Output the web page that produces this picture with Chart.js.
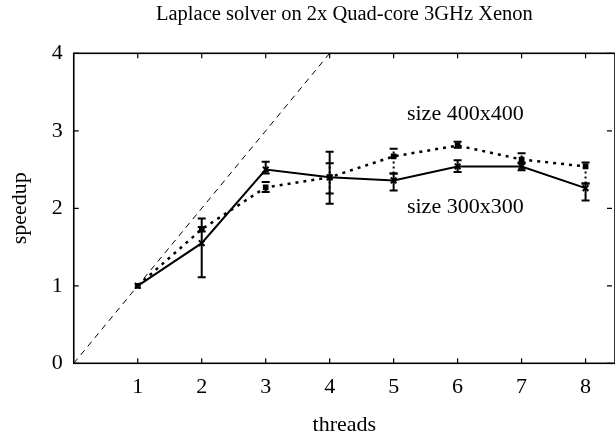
<!DOCTYPE html>
<html><head><meta charset="utf-8">
<script src="https://cdn.jsdelivr.net/npm/chart.js@4"></script>
<style>html,body{margin:0;padding:0;background:#fff}#wrap{width:615px;height:440px}</style>
</head><body><div id="wrap"><canvas id="c" width="615" height="440"></canvas></div>
<script>
// ---- data ----
const threads = [1, 2, 3, 4, 5, 6, 7, 8];
const speedup300 = [1.00, 1.55, 2.50, 2.40, 2.36, 2.54, 2.54, 2.26];
const err300Low  = [1.00, 1.11, 2.45, 2.06, 2.23, 2.47, 2.49, 2.10];
const err300High = [1.00, 1.87, 2.60, 2.73, 2.45, 2.62, 2.58, 2.32];
const speedup400 = [1.00, 1.73, 2.27, 2.40, 2.67, 2.81, 2.63, 2.54];
const err400Low  = [1.00, 1.70, 2.21, 2.19, 2.45, 2.78, 2.59, 2.32];
const err400High = [1.00, 1.76, 2.34, 2.58, 2.77, 2.86, 2.71, 2.59];
const idealThreads = [0, 4];
const idealSpeedup = [0, 4];
const xTickValues = [1, 2, 3, 4, 5, 6, 7, 8];
const yTickValues = [0, 1, 2, 3, 4];
const titleText = 'Laplace solver on 2x Quad-core 3GHz Xenon';
const label400 = 'size 400x400';
const label300 = 'size 300x300';
// annotation anchors (data coordinates)
const label400At = {x: 6.12, y: 3.21};
const label300At = {x: 6.12, y: 2.02};

const FAM = '"Liberation Serif", "DejaVu Serif", serif';
const f22 = {family: FAM, size: 22, weight: 'normal'};

const toXY = (xs, ys) => xs.map((x, i) => ({x: x, y: ys[i]}));

const extras = {
  id: 'extras',
  afterDatasetsDraw(chart) {
    const ctx = chart.ctx, xs = chart.scales.x, ys = chart.scales.y;
    const drawErr = (lo, hi, dash, lw) => {
      ctx.save();
      ctx.strokeStyle = '#000';
      ctx.lineWidth = lw;
      threads.forEach((t, i) => {
        if (hi[i] - lo[i] < 0.001) return;
        const px = xs.getPixelForValue(t);
        const y1 = ys.getPixelForValue(lo[i]), y2 = ys.getPixelForValue(hi[i]);
        ctx.setLineDash(dash);
        ctx.beginPath(); ctx.moveTo(px, y1); ctx.lineTo(px, y2); ctx.stroke();
        ctx.setLineDash([]);
        ctx.beginPath();
        ctx.moveTo(px - 4, y1); ctx.lineTo(px + 4, y1);
        ctx.moveTo(px - 4, y2); ctx.lineTo(px + 4, y2);
        ctx.stroke();
      });
      ctx.restore();
    };
    drawErr(err400Low, err400High, [2, 3], 2);
    drawErr(err300Low, err300High, [], 2);

    ctx.save();
    ctx.fillStyle = '#000';
    ctx.font = '22px ' + FAM;
    ctx.textAlign = 'center';
    ctx.textBaseline = 'middle';
    ctx.fillText(label400, xs.getPixelForValue(label400At.x), ys.getPixelForValue(label400At.y));
    ctx.fillText(label300, xs.getPixelForValue(label300At.x), ys.getPixelForValue(label300At.y));
    ctx.restore();
  },
  afterDraw(chart) {
    const ctx = chart.ctx, a = chart.chartArea, xs = chart.scales.x, ys = chart.scales.y;
    ctx.save();
    ctx.strokeStyle = '#000';
    ctx.lineWidth = 1.6;
    ctx.strokeRect(a.left, a.top, a.right - a.left, a.bottom - a.top);
    ctx.lineWidth = 1.2;
    ctx.beginPath();
    xTickValues.forEach(v => {
      const px = xs.getPixelForValue(v);
      ctx.moveTo(px, a.bottom); ctx.lineTo(px, a.bottom - 5);
      ctx.moveTo(px, a.top); ctx.lineTo(px, a.top + 5);
    });
    yTickValues.forEach(v => {
      const py = ys.getPixelForValue(v);
      ctx.moveTo(a.left, py); ctx.lineTo(a.left + 5, py);
      ctx.moveTo(a.right - 3, py); ctx.lineTo(a.right - 8, py);
    });
    ctx.stroke();
    ctx.restore();
  }
};

new Chart(document.getElementById('c'), {
  type: 'line',
  data: {
    datasets: [
      {label: 'ideal', data: toXY(idealThreads, idealSpeedup), borderColor: '#000', borderWidth: 1,
       borderDash: [6, 5], pointRadius: 0, fill: false, tension: 0},
      {label: label400, data: toXY(threads, speedup400), borderColor: '#000', borderWidth: 2.5,
       borderDash: [3, 5], pointStyle: 'rect', pointRadius: 4, pointBackgroundColor: '#000',
       pointBorderColor: '#000', pointBorderWidth: 0, fill: false, tension: 0},
      {label: label300, data: toXY(threads, speedup300), borderColor: '#000', borderWidth: 2,
       pointStyle: 'crossRot', pointRadius: 4, pointBorderColor: '#000', pointBorderWidth: 2,
       fill: false, tension: 0}
    ]
  },
  options: {
    responsive: false,
    animation: false,
    layout: {padding: 0, autoPadding: false},
    plugins: {
      legend: {display: false},
      tooltip: {enabled: false},
      title: {display: true, fullSize: false, text: titleText, color: '#000',
              font: {family: FAM, size: 20.5, weight: 'normal'}, padding: {top: 2, bottom: 26.7}}
    },
    scales: {
      x: {
        type: 'linear', min: 0, max: 8.46,
        afterBuildTicks: s => { s.ticks = xTickValues.map(v => ({value: v})); },
        afterFit: s => { s.height = 76.7; s.paddingLeft = 0; s.paddingRight = 0; },
        grid: {display: false, drawTicks: false},
        border: {display: false},
        ticks: {font: f22, color: '#000', padding: 11, maxRotation: 0, autoSkip: false},
        title: {display: true, text: 'threads', font: f22, color: '#000', padding: {top: 0, bottom: 2}}
      },
      y: {
        type: 'linear', min: 0, max: 4,
        afterBuildTicks: s => { s.ticks = yTickValues.map(v => ({value: v})); },
        afterFit: s => { s.width = 73.76; s.paddingTop = 0; s.paddingBottom = 0; },
        grid: {display: false, drawTicks: false},
        border: {display: false},
        ticks: {font: f22, color: '#000', padding: 11},
        title: {display: true, text: 'speedup', font: f22, color: '#000', padding: {top: 7, bottom: 0}}
      }
    }
  },
  plugins: [extras]
});
</script>
</body></html>
